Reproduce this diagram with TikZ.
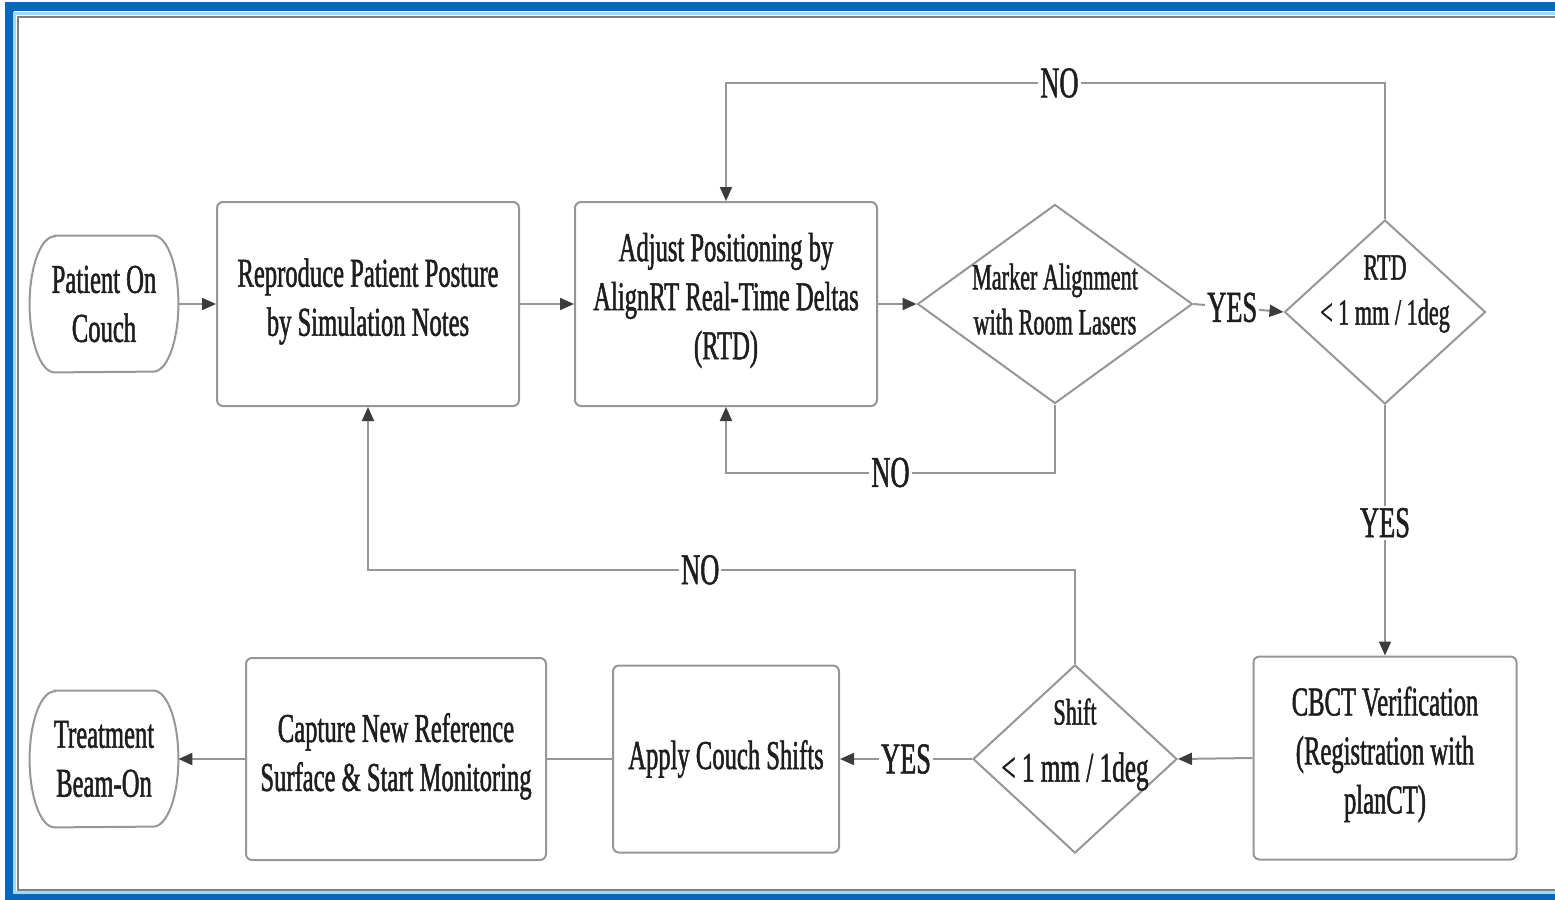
\documentclass[tikz,border=0pt]{standalone}
\usepackage{fontspec}
\setmainfont[FakeStretch=0.6, FakeBold=1.2]{Liberation Serif}
\usetikzlibrary{arrows.meta, positioning, shapes.geometric}

\definecolor{frameblue}{RGB}{8,104,188}
\definecolor{framelight}{RGB}{165,215,240}
\definecolor{lineg}{RGB}{150,150,150}
\definecolor{tipg}{RGB}{60,60,60}
\definecolor{txtg}{RGB}{30,30,30}

% outline of a terminal node: flat top and bottom, elliptic sides
\newcommand{\termedge}[1]{%
    \draw[draw=lineg, line width=1pt] ([xshift=12.5pt]#1.north west) -- ([xshift=-12.5pt]#1.north east)
        arc[start angle=90, end angle=-90, x radius=12.5pt, y radius=34pt]
        -- ([xshift=12.5pt]#1.south west)
        arc[start angle=270, end angle=90, x radius=12.5pt, y radius=34pt] -- cycle;}

\begin{document}
\begin{tikzpicture}[x=0.5pt, y=-0.5pt,
    stepbox/.style={draw=lineg, line width=1pt, rounded corners=3pt, align=center,
        text=txtg, font=\fontsize{20.5}{24.5}\selectfont},
    termbox/.style={minimum width=74pt, minimum height=68pt, align=center, text=txtg,
        font=\fontsize{20.5}{24.5}\selectfont},
    decide/.style={draw=lineg, line width=1pt, diamond, inner sep=-10pt, align=center,
        text=txtg, font=\fontsize{18.5}{22.5}\selectfont},
    flow/.style={draw=lineg, line width=1pt, -{Triangle[length=7pt,width=6pt,color=tipg]}},
    conn/.style={draw=lineg, line width=1pt},
    lbl/.style={fill=white, inner sep=1pt, text=txtg, font=\fontsize{22}{24}\selectfont}]

    \useasboundingbox (0,0) rectangle (1555,900);

    % Frame
    \draw[line width=4.5pt, frameblue] (1555,6.5) -- (9,6.5) -- (9,896) -- (1555,896);
    \draw[line width=1.5pt, framelight] (1555,13.5) -- (14.5,13.5) -- (14.5,892.5) -- (1555,892.5);
    \draw[line width=1pt, gray] (1555,17) -- (17.5,17) -- (17.5,890) -- (1555,890);

    % Top row
    \node[termbox] (patient) at (104,304) {Patient On\\Couch};
    \termedge{patient}
    \node[stepbox, minimum width=151pt, minimum height=102pt, text depth=7pt] (reproduce) at (368,304)
        {Reproduce Patient Posture\\by Simulation Notes};
    \node[stepbox, minimum width=151pt, minimum height=102pt, text depth=8pt] (adjust) at (726,304)
        {Adjust Positioning by\\AlignRT Real-Time Deltas\\(RTD)};
    \node[decide, minimum width=137.5pt, minimum height=99.5pt, text depth=5pt] (marker) at (1055,304)
        {Marker Alignment\\with Room Lasers};
    \node[decide, minimum width=100.5pt, minimum height=92pt, text depth=22pt] (rtd) at (1385,312)
        {RTD\\< 1 mm / 1deg};

    % Bottom row
    \node[stepbox, minimum width=131.5pt, minimum height=101.5pt, text depth=8pt] (cbct) at (1385,758)
        {CBCT Verification\\(Registration with\\planCT)};
    \node[decide, minimum width=102pt, minimum height=91pt, text depth=19pt] (shift) at (1075,759)
        {Shift\\[6pt]{\fontsize{21}{24}\selectfont < 1 mm / 1deg}};
    \node[stepbox, minimum width=113pt, minimum height=93.5pt] (apply) at (726,759)
        {Apply Couch Shifts};
    \node[stepbox, minimum width=150pt, minimum height=101pt, text depth=7pt] (capture) at (396,759)
        {Capture New Reference\\Surface \& Start Monitoring};
    \node[termbox] (beam) at (104,759) {Treatment\\Beam-On};
    \termedge{beam}

    % Main flow
    \draw[flow] (patient.east) -- (reproduce.west);
    \draw[flow] (reproduce.east) -- (adjust.west);
    \draw[flow] (adjust.east) -- (marker.west);
    \draw[flow] (marker.east) -- (rtd.west) node[lbl, pos=0.43] {YES};
    \draw[flow] (rtd.south) -- (cbct.north) node[lbl, pos=0.47] {YES};
    \draw[flow] (cbct.west) -- (shift.east);
    \draw[flow] (shift.west) -- (apply.east) node[lbl, pos=0.5] {YES};
    \draw[conn] (apply.west) -- (capture.east);
    \draw[flow] (capture.west) -- (beam.east);

    % Loops back
    \draw[flow] (rtd.north) -- ++(0,-136) -| (adjust.north) node[lbl, pos=0.247] {NO};
    \draw[flow] (marker.south) -- ++(0,68) -| (adjust.south) node[lbl, pos=0.25] {NO};
    \draw[flow] (shift.north) -- ++(0,-94) -| (reproduce.south) node[lbl, pos=0.265] {NO};
\end{tikzpicture}
\end{document}
